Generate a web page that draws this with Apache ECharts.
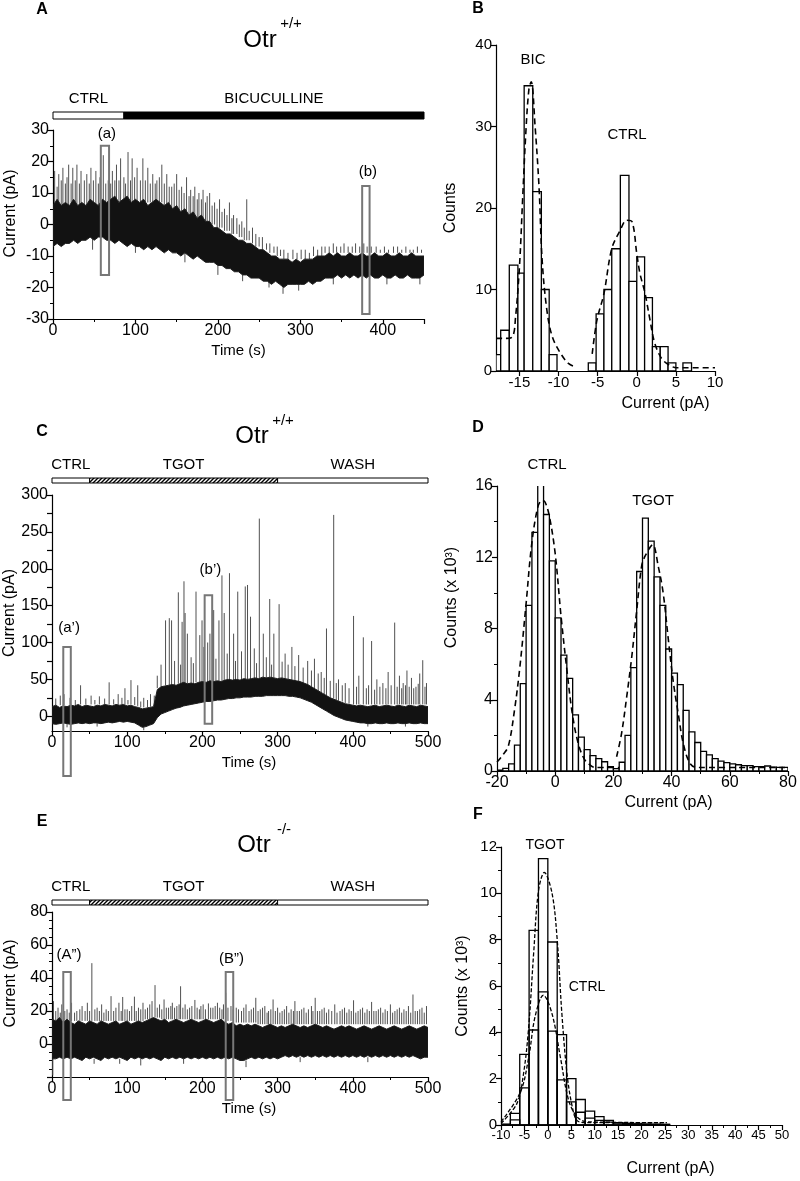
<!DOCTYPE html>
<html>
<head>
<meta charset="utf-8">
<script src="https://cdn.jsdelivr.net/npm/echarts@6/dist/echarts.min.js"></script>
<style>
html, body { margin: 0; padding: 0; background: #fff; }
#chart { width: 800px; height: 1181px; }
</style>
</head>
<body>
<div id="chart"></div>
<script>
// ---------- data ----------
// recording traces: dense band (low / high edge) sampled every 5 s
var traceTimeA = [0,5,10,15,20,25,30,35,40,45,50,55,60,65,70,75,80,85,90,95,100,105,110,115,120,125,130,135,140,145,150,155,160,165,170,175,180,185,190,195,200,205,210,215,220,225,230,235,240,245,250,255,260,265,270,275,280,285,290,295,300,305,310,315,320,325,330,335,340,345,350,355,360,365,370,375,380,385,390,395,400,405,410,415,420,425,430,435,440,445,450];
var traceLowA = [-7,-6,-7,-6,-6,-5,-6,-5,-5,-4, -5,-4,-4,-5,-5,-6,-5,-6,-7,-6, -7,-7,-8,-7,-8,-7,-8,-9,-8,-9, -9,-10,-9,-10,-11,-10,-11,-12,-12,-12, -13,-13,-14,-14,-15,-15,-16,-16,-17,-17, -17,-18,-18,-19,-18,-19,-20,-19,-19,-19, -19,-19,-18,-19,-18,-18,-17,-17,-17,-16, -17,-16,-17,-16,-17,-16,-17,-16,-17,-17, -16,-17,-17,-16,-17,-17,-16,-17,-17,-17,-16];
var traceHighA = [6,8,6,7,6,8,6,7,6,8, 7,6,8,7,8,9,7,8,9,7, 8,7,8,6,7,8,7,6,7,5, 6,4,5,3,4,2,3,1,1,-1, -1,-2,-3,-3,-4,-5,-5,-6,-6,-7, -8,-8,-9,-10,-10,-11,-11,-11,-12,-11, -12,-11,-11,-11,-10,-10,-10,-9,-10,-9, -10,-10,-9,-10,-10,-9,-10,-10,-9,-10, -10,-9,-10,-10,-9,-10,-10,-9,-10,-10,-10];

var traceTimeCE = [0,5,10,15,20,25,30,35,40,45,50,55,60,65,70,75,80,85,90,95,100,105,110,115,120,125,130,135,140,145,150,155,160,165,170,175,180,185,190,195,200,205,210,215,220,225,230,235,240,245,250,255,260,265,270,275,280,285,290,295,300,305,310,315,320,325,330,335,340,345,350,355,360,365,370,375,380,385,390,395,400,405,410,415,420,425,430,435,440,445,450,455,460,465,470,475,480,485,490,495,500];
var traceLowC = [-10,-11,-10,-9,-10,-11,-10,-9,-10,-9, -10,-9,-9,-10,-9,-8,-9,-8,-7,-8, -7,-8,-9,-12,-15,-14,-12,-10,-2,3, 5,7,9,11,12,14,15,16,17,18, 19,20,20,21,22,22,23,24,24,25, 25,26,26,26,27,27,27,28,28,28, 28,28,28,27,27,26,25,23,21,19, 16,13,10,7,4,1,-1,-3,-5,-6, -7,-8,-9,-9,-10,-10,-9,-10,-10,-9, -10,-10,-9,-10,-10,-9,-10,-10,-9,-10,-10];
var traceHighC = [13,15,12,14,13,15,14,16,13,15, 14,13,15,14,16,15,14,16,15,16, 14,15,13,12,10,11,12,13,36,40, 41,42,43,42,44,46,44,45,44,46, 47,46,48,47,48,47,49,50,49,50, 49,51,50,51,52,51,53,52,53,52, 51,52,51,50,49,48,47,45,43,40, 37,34,31,28,25,23,21,19,17,16, 15,14,15,14,13,14,15,13,14,15, 14,13,15,14,13,15,14,13,15,14,13];
var traceLowE = [-9,-9,-8,-9,-8,-9,-8,-9,-10,-8, -9,-8,-9,-10,-8,-9,-8,-9,-8,-9, -10,-8,-9,-8,-9,-8,-9,-8,-9,-10, -8,-9,-8,-9,-8,-9,-8,-9,-8,-9, -8,-9,-8,-9,-8,-9,-8,-9,-8,-9, -10,-10,-9,-8,-9,-8,-9,-8,-9,-8, -9,-8,-7,-8,-7,-8,-7,-8,-7,-8, -7,-8,-7,-8,-7,-8,-7,-8,-7,-8, -7,-8,-7,-8,-7,-8,-7,-8,-7,-8, -7,-8,-7,-8,-7,-8,-7,-8,-9,-8,-8];
var traceHighE = [15,14,16,13,15,13,12,14,13,12, 14,13,12,14,13,12,13,14,12,13, 14,12,13,14,13,14,15,16,15,14, 15,13,14,15,14,13,14,15,14,13, 14,15,14,13,14,15,13,12,13,11, 12,11,12,11,12,11,10,11,12,11, 10,11,10,11,12,11,10,11,10,11, 12,11,10,11,10,9,10,11,10,11, 10,9,10,11,10,9,10,11,10,9, 10,11,10,9,10,11,10,9,10,11,10];

// single events sticking out of the band: [time, from, to]
var spikesA = [[2,6,17],[5,6,12],[7,6,16],[10,6,14],[12,6,18],[15,6,13],[17,6,15],[19,6,19],[22,6,13],[24,6,18],[27,6,14],[29,6,19],[32,6,13],[34,6,17],[38,6,14],[41,6,16],[44,6,13],[46,6,18],[49,6,14],[52,6,17],[55,6,13],[57,6,15],[61,6,22],[64,6,13],[67,6,14],[70,6,13],[72,6,17],[75,6,14],[77,7,19],[80,7,14],[82,7,21],[86,7,15],[88,7,13],[91,7,23],[94,7,14],[96,7,21],[99,7,15],[102,7,18],[106,7,14],[109,7,21],[112,7,14],[115,7,18],[118,7,13],[121,7,16],[124,7,13],[126,7,14],[129,7,15],[132,7,19],[135,6,13],[138,6,16],[141,6,12],[144,5,12],[147,5,13],[150,5,16],[153,4,11],[156,4,12],[159,4,10],[162,4,15],[165,3,9],[167,3,11],[170,3,9],[172,3,12],[175,2,8],[177,2,10],[180,2,8],[182,2,11],[185,1,7],[187,1,9],[190,1,10],[193,0,6],[196,0,7],[199,-1,5],[202,-1,8],[205,-1,4],[208,-2,5],[211,-2,3],[214,-2,7],[217,-3,2],[219,-3,3],[223,-3,2],[226,-4,0],[229,-4,1],[232,-5,-1],[235,-5,8],[238,-5,-2],[242,-6,-1],[246,-7,-3],[250,-7,-4],[254,-8,-4],[259,-8,-6],[263,-9,-6],[268,-9,-7],[272,-10,-7],[276,-10,-8],[280,-11,-8],[285,-11,-9],[291,-11,-8],[296,-11,-9],[301,-11,-8],[306,-11,-8],[311,-11,-9],[316,-10,-7],[321,-10,-8],[326,-10,-7],[330,-9,-7],[335,-9,-7],[340,-9,-6],[344,-9,-7],[349,-9,-7],[353,-9,-6],[358,-9,-7],[363,-9,-7],[367,-9,-6],[372,-9,-7],[377,-9,-6],[381,-9,-7],[386,-9,-7],[392,-9,-7],[397,-9,-8],[402,-9,-7],[407,-9,-8],[413,-9,-7],[418,-9,-7],[423,-9,-8],[428,-9,-7],[433,-9,-8],[437,-9,-8],[442,-9,-7],[447,-9,-8],
  [48,-4,-8],[100,-7,-9],[160,-9,-12],[200,-13,-16],[230,-16,-18],[262,-18,-20],[279,-19,-22],[298,-19,-21],[340,-17,-19],[405,-17,-19],[445,-17,-19]];
var spikesC = [[5,15,24],[11,15,28],[16,15,30],[24,15,25],[31,15,22],[38,16,42],[45,16,24],[52,16,28],[57,16,22],[63,16,27],[70,16,24],[76,16,46],[82,16,23],[88,16,30],[93,16,25],[97,16,38],[101,16,22],[105,16,49],[110,15,26],[114,14,42],[118,12,20],[122,12,25],[127,12,22],[131,13,30],[136,14,28],[140,38,55],[145,40,70],[151,42,130],[156,42,133],[159,42,130],[163,42,75],[168,44,168],[171,44,70],[173,44,128],[175.5,44,183],[177,44,140],[180,44,112],[185,44,80],[188,44,72],[191.5,46,169],[196.5,46,110],[199.5,46,130],[202,46,94],[207,46,100],[210,46,112],[215,46,144],[218,46,78],[222,46,130],[226,46,191],[229,46,140],[233,48,85],[236,48,194],[241.5,48,112],[244,48,75],[247,48,169],[252,48,88],[257,48,176],[260,48,178],[264,48,135],[269,48,92],[272,48,72],[275.7,48,268],[281,48,112],[285,48,80],[289.5,48,159],[292,48,70],[295,48,112],[302,48,152],[306,48,74],[310,48,85],[314,48,70],[319,48,94],[323,46,68],[328,46,83],[334,44,66],[340,42,75],[345,40,62],[349,38,78],[354,34,58],[358,32,60],[362,30,52],[365,28,119],[370,25,48],[374.6,24,273],[378,22,45],[381,21,50],[386,20,42],[390,18,45],[395,17,38],[401,16,136],[405,16,40],[408,16,55],[414,16,107],[418,16,38],[421,16,42],[425,16,102],[429,16,36],[432,16,50],[436,16,40],[440,16,45],[444,16,38],[447,16,60],[451,16,42],[455.7,16,127],[459,16,40],[462,16,55],[465,16,38],[467,16,45],[470,16,42],[472,16,62],[475,16,40],[478,16,52],[481,16,38],[484,16,40],[487,16,44],[489,16,58],[493,16,76],[496,16,40],[498,16,45],
  [122,-14,-19],[60,-9,-14],[20,-10,-15],[420,-9,-14],[470,-9,-14]];
var spikesE = [[1,-9,-19],[2,14,26],[5,14,20],[8,14,22],[11,14,19],[13,14,24],[17,14,20],[20,14,21],[23,14,19],[26,14,25],[30,14,19],[33,14,20],[37,14,21],[40,14,23],[44,14,20],[47,14,25],[50,14,20],[53,14,49],[57,14,21],[60,14,22],[63,14,20],[66,14,24],[69,14,19],[72,14,21],[75,14,20],[78.5,14,29],[82,14,20],[85,14,22],[89,14,25],[92,14,20],[94,14,28.5],[97,14,21],[100,14,21],[103,14,20],[106,14,23],[109.6,14,28.7],[112,14,20],[115,14,22],[118,14,21],[121,14,25],[124,15,21],[127,15,22],[130,15,24],[133,15,26],[137,16,35.7],[140,16,22],[143,16,24],[146,15,21],[149,15,27],[152,15,22],[155,15,22],[158,15,23],[160,15,25],[163,15,22],[166,15,23],[169,15,24],[171,15,35],[174,15,22],[177,15,24],[180,15,21],[183,15,22],[186,15,23],[190,15,26.7],[193,15,22],[196,15,21],[198,15,23],[201,15,24],[204,15,21],[208,15,24.6],[211,15,22],[214,15,22],[217,15,23],[220,15,25],[223,15,22],[226,15,21],[228,15,24],[231,14,31],[234,14,22],[238,14,23],[241,14,21],[245,13,22],[248,13,21],[252,13,20],[255,13,22],[258,13,24],[262,13,20],[265,13,21],[268,13,22],[271,13,28],[274,12,20],[277,12,21],[280,12,22],[283,12,23],[286,12,19],[288,12,20],[291,12,21],[294,12,27],[297,12,20],[300,12,22],[303,12,19],[306,12,20],[309,12,21],[312,12,23],[315,12,19],[318,12,21],[321,12,20],[323,12,26],[326,12,20],[329,12,20],[332,12,21],[335,12,22],[338,12,19],[341,12,21],[345,12,23],[347,12,20],[350,12,28],[353,12,20],[356,12,20],[359,12,21],[362,12,22],[365,12,19],[368,12,21],[372,12,20],[376,12,24],[379,12,19],[383,12,20],[386,12,21],[389,12,22],[392,12,19],[395,12,21],[398,12,20],[401,12,26.5],[404,12,19],[407,12,20],[410,12,21],[413,12,22],[416,12,19],[419,12,21],[422,12,20],[425,12,25.5],[428,12,20],[431,12,20],[434,12,21],[437,12,22],[440,12,19],[443,12,21],[446,12,20],[450,12,24],[453,12,19],[456,12,20],[459,12,21],[462,12,22],[465,12,19],[468,12,21],[471,12,20],[474,12,23],[477,12,19],[480,12,30],[483,12,20],[486,12,20],[489,12,21],[492,12,22],[495,12,19],[498,12,23],
  [56,-9,-12],[90,-9,-12],[118,-9,-13],[175,-9,-12],[258,-10,-14],[330,-8,-11],[420,-8,-11]];

// drug application bars: start, end, label
var condStartA = [0, 86];
var condEndA = [86, 450];
var condLabelA = ['CTRL', 'BICUCULLINE'];
var condStartCE = [0, 50, 300];
var condEndCE = [50, 300, 500];
var condLabelCE = ['CTRL', 'TGOT', 'WASH'];

// marked stretches: [t0, t1, low, high]
var boxesA = [[58, 68, -16, 25], [375, 384, -28.4, 12.2]];
var boxLabelA = ['(a)', '(b)'];
var boxesC = [[15, 25, -81, 94], [203, 213, -10, 164]];
var boxLabelC = ['(a\u2019)', '(b\u2019)'];
var boxesE = [[15, 25, -34, 43.6], [231, 241, -34, 43.6]];
var boxLabelE = ['(A\u201D)', '(B\u201D)'];

// B: histograms [bin left, bin right, counts] and fitted curves
var histBic = [[-18,-17.4,2],[-17.4,-16.3,5],[-16.3,-15.2,13],[-15.2,-14.4,12],[-14.4,-13.3,35],[-13.3,-12.2,22],[-12.2,-11.2,10],[-11.2,-10.2,2]];
var histCtrlB = [[-6.2,-5.2,1],[-5.2,-4.2,7],[-4.2,-3.2,10],[-3.2,-2.1,15],[-2.1,-1,24],[-1,0,11],[0,1,14],[1,2,9],[2,3,3],[3,4,3],[4,5,1],[5.9,7,1]];
var fitBic = [[-18,4],[-16.8,4],[-15.9,4.2],[-15.5,6.6],[-15,12.8],[-14.6,21],[-14.2,29],[-13.8,34.5],[-13.5,35.5],[-13,30],[-12.5,22.6],[-12.1,13.6],[-11.5,7.5],[-10.8,4.2],[-9.7,2.1],[-8.7,0.9],[-7.8,0.5]];
var fitCtrlB = [[-5.7,2.1],[-5.1,6.2],[-4.2,9.5],[-3.2,15],[-2.1,17.3],[-1.3,18.5],[-0.6,18.3],[0,14.4],[0.4,12],[1.06,9.5],[1.7,6.2],[2.3,3.4],[3.2,1.5],[4.2,0.7],[5.1,0.4],[10,0.4]];

// D: 2 pA bins, counts x10^3
var binLeftD = [-20,-18,-16,-14,-12,-10,-8,-6,-4,-2,0,2,4,6,8,10,12,14,16,18,20,22,24,26,28,30,32,34,36,38,40,42,44,46,48,50,52,54,56,58,60,62,64,66,68,70,72,74,76,78];
var countsD = [0.05,0.15,0.4,1.45,4.9,9.3,13.4,16.07,14.4,11.8,8.6,6.5,5.2,3.15,1.9,1.2,0.86,0.7,0.52,0.24,0.13,0.49,2.0,5.8,11.2,14.2,12.9,10.9,9.3,6.85,5.5,4.85,3.4,2.2,1.6,1.1,0.9,0.7,0.55,0.47,0.4,0.35,0.3,0.3,0.25,0.25,0.28,0.22,0.2,0.2];
var fitCtrlD = [[-20,0.5],[-18,0.9],[-16.1,1.4],[-14,3.4],[-12.1,5.9],[-10,9.4],[-8.1,12.7],[-6,14.8],[-4.5,15.2],[-3.5,15.1],[-2,14.3],[0,12.2],[2,8.7],[4,5.7],[5.9,3.2],[7.9,1.55],[9.9,0.7],[12,0.33],[13.7,0.2],[22,0.2]];
var fitTgotD = [[21.1,0.8],[22.8,2.1],[24.6,4.2],[26.3,6.4],[28,9],[29.7,11.5],[31,12.1],[33.5,12.7],[35.4,11.5],[37.1,10],[38.8,7.5],[40.5,5.1],[42.3,3.2],[44,1.55],[46.3,0.43],[48.6,0.2],[80,0.2]];

// F: 2 pA bins, counts x10^3
var binLeftF = [-10,-8,-6,-4,-2,0,2,4,6,8,10,12,14,16,18,20,22,24];
var countsTgotF = [0.03,0.5,3.05,8.4,11.5,7.9,3.9,2.0,1.1,0.6,0.36,0.2,0.1,0.07,0.05,0.04,0.03,0.03];
var countsCtrlF = [0.03,0.22,1.6,4.1,5.75,4.05,1.95,1.0,0.55,0.3,0.2,0.12,0.08,0.05,0.04,0.03,0.03,0.02];
var fitTgotF = [[-10,0.07],[-6.6,0.93],[-5.2,2.2],[-4.1,4.2],[-3,7.5],[-2,10.1],[-0.75,10.9],[0.9,10],[2,8],[3,4.8],[4.1,2.2],[5.2,0.8],[6.2,0.2],[8,0.1],[25.4,0.1]];
var fitCtrlF = [[-10,0.14],[-5.9,1.4],[-4.1,2.9],[-2.7,4.7],[-0.95,5.6],[0.9,4.8],[2.7,2.9],[4.4,1.1],[6.2,0.36],[8.4,0.14],[25.4,0.1]];

// ---------- drawing ----------
var FONT = '"Liberation Sans", Arial, Helvetica, sans-serif';

function hatchPattern () {
  var c = document.createElement('canvas')
  c.width = 4
  c.height = 4
  var g = c.getContext('2d')
  g.fillStyle = '#fff'
  g.fillRect(0, 0, 4, 4)
  g.strokeStyle = '#000'
  g.lineWidth = 1.4
  g.beginPath()
  g.moveTo(-1, 5); g.lineTo(5, -1)
  g.moveTo(-1, 1); g.lineTo(1, -1)
  g.moveTo(3, 5); g.lineTo(5, 3)
  g.stroke()
  return { image: c, repeat: 'repeat' }
}
var HATCH = hatchPattern()
var condFillA = ['#fff', '#000']
var condFillCE = ['#fff', HATCH, '#fff']

function ax (gridIndex, min, max, o) {
  o = o || {}
  return {
    type: 'value', gridIndex: gridIndex, min: min, max: max, interval: o.interval,
    name: o.name || '', nameLocation: 'middle', nameGap: o.nameGap || 25,
    nameTextStyle: { color: '#000', fontSize: o.nameSize || 16, fontFamily: FONT, padding: o.namePad || 0 },
    axisLine: { show: true, onZero: false, lineStyle: { color: '#000', width: 1.2 } },
    axisTick: { show: true, length: 5, customValues: o.tickValues, lineStyle: { color: '#000', width: 1.2 } },
    minorTick: { show: !!o.minor, splitNumber: o.minor || 5, length: 3, lineStyle: { color: '#000', width: 1 } },
    axisLabel: { color: '#000', fontSize: o.labelSize || 16, fontFamily: FONT, margin: 4, customValues: o.labelValues, showMaxLabel: o.showMax, showMinLabel: o.showMin },
    splitLine: { show: false }
  }
}
function hiddenAx (gridIndex, min, max) {
  return { type: 'value', gridIndex: gridIndex, min: min, max: max, show: false, splitLine: { show: false } }
}

function bandRender (params, api) {
  if (params.dataIndexInside !== 0) return null
  var n = params.dataInsideLength
  var upper = []
  var lower = []
  for (var i = 0; i < n; i++) {
    upper.push(api.coord([api.value(0, i), api.value(2, i)]))
    lower.push(api.coord([api.value(0, i), api.value(1, i)]))
  }
  return {
    type: 'polygon',
    shape: { points: upper.concat(lower.reverse()) },
    style: { fill: '#121212', stroke: '#1e1e1e', lineWidth: 1 }
  }
}
function spikeRender (params, api) {
  var a = api.coord([api.value(0), api.value(1)])
  var b = api.coord([api.value(0), api.value(2)])
  return { type: 'line', shape: { x1: a[0], y1: a[1], x2: b[0], y2: b[1] }, style: { stroke: '#505050', lineWidth: 1 } }
}
function histRender (fill) {
  return function (params, api) {
    var p0 = api.coord([api.value(0), api.value(2)])
    var p1 = api.coord([api.value(1), 0])
    return {
      type: 'rect',
      shape: { x: p0[0], y: p0[1], width: p1[0] - p0[0], height: p1[1] - p0[1] },
      style: { fill: fill, stroke: '#000', lineWidth: 1.3 }
    }
  }
}
function boxRender (labels, gaps) {
  return function (params, api) {
    var p0 = api.coord([api.value(0), api.value(3)])
    var p1 = api.coord([api.value(1), api.value(2)])
    var i = params.dataIndex
    return {
      type: 'group',
      children: [
        { type: 'rect', shape: { x: p0[0], y: p0[1], width: p1[0] - p0[0], height: p1[1] - p0[1] }, style: { fill: 'none', stroke: '#777', lineWidth: 2 } },
        { type: 'text', x: (p0[0] + p1[0]) / 2 + 2, y: p0[1] - gaps[i], style: { text: labels[i], font: '15px ' + FONT, fill: '#000', align: 'center', verticalAlign: 'middle' } }
      ]
    }
  }
}
function condRender (labels, fills) {
  return function (params, api) {
    var p0 = api.coord([api.value(0), 1])
    var p1 = api.coord([api.value(1), 0])
    var i = params.dataIndex
    return {
      type: 'group',
      children: [
        { type: 'rect', shape: { x: p0[0], y: p0[1], width: p1[0] - p0[0], height: p1[1] - p0[1] }, style: { fill: fills[i], stroke: '#000', lineWidth: 1 } },
        { type: 'text', x: (p0[0] + p1[0]) / 2, y: p0[1] - 13, style: { text: labels[i], font: '15px ' + FONT, fill: '#000', align: 'center', verticalAlign: 'middle' } }
      ]
    }
  }
}

function zip3 (t, lo, hi) {
  return t.map(function (v, i) { return [v, lo[i], hi[i]] })
}
function bins (left, counts) {
  return left.map(function (x, i) { return [x, x + 2, counts[i]] })
}
function cond (start, end) {
  return start.map(function (s, i) { return [s, end[i]] })
}

function trace (idx, band, spikes, boxes, labels, gaps) {
  return [
    { type: 'custom', xAxisIndex: idx, yAxisIndex: idx, renderItem: spikeRender, data: spikes, encode: { x: 0, y: [1, 2] }, clip: true, silent: true },
    { type: 'custom', xAxisIndex: idx, yAxisIndex: idx, renderItem: bandRender, data: band, encode: { x: 0, y: [1, 2] }, clip: true, silent: true },
    { type: 'custom', xAxisIndex: idx, yAxisIndex: idx, renderItem: boxRender(labels, gaps), data: boxes, encode: { x: [0, 1], y: [2, 3] }, clip: false, silent: true, z: 5 }
  ]
}
function hist (idx, data, fill) {
  return { type: 'custom', xAxisIndex: idx, yAxisIndex: idx, renderItem: histRender(fill), data: data, encode: { x: [0, 1], y: 2 }, clip: true, silent: true }
}
function fit (idx, data, dash, width) {
  return {
    type: 'line', xAxisIndex: idx, yAxisIndex: idx, data: data, symbol: 'none', smooth: 0.35, silent: true, z: 4,
    lineStyle: { color: '#000', width: width, type: dash }
  }
}
function condSeries (idx, data, labels, fills) {
  return { type: 'custom', xAxisIndex: idx, yAxisIndex: idx, renderItem: condRender(labels, fills), data: data, encode: { x: [0, 1] }, clip: false, silent: true }
}

function txt (x, y, s, font) {
  return { type: 'text', x: x, y: y, silent: true, style: { text: s, font: font, fill: '#000', align: 'center', verticalAlign: 'middle' } }
}

var c25 = [0, 25, 50, 75, 100, 125, 150, 175, 200, 225, 250, 275, 300]
var c50 = [0, 50, 100, 150, 200, 250, 300]
var bTicks = [-15, -10, -5, 0, 5, 10]

var option = {
  animation: false,
  backgroundColor: '#fff',
  grid: [
    { left: 53, top: 130, width: 371, height: 189 },
    { left: 496, top: 45, width: 219, height: 326 },
    { left: 52, top: 495, width: 376, height: 236 },
    { left: 497, top: 486, width: 291, height: 285 },
    { left: 52, top: 912, width: 376, height: 165 },
    { left: 501, top: 847, width: 281, height: 278 },
    { left: 53, top: 112, width: 371, height: 7 },
    { left: 52, top: 478, width: 376, height: 5 },
    { left: 52, top: 900, width: 376, height: 5 }
  ],
  xAxis: [
    ax(0, 0, 450, { interval: 100, minor: 2, name: 'Time (s)', nameGap: 24, nameSize: 15, showMax: false }),
    ax(1, -18, 10, { labelValues: bTicks, tickValues: bTicks, labelSize: 15, name: 'Current (pA)', nameGap: 25, namePad: [0, 0, 0, 120] }),
    ax(2, 0, 500, { interval: 100, minor: 2, name: 'Time (s)', nameGap: 24, nameSize: 15, namePad: [0, 0, 0, 18] }),
    ax(3, -20, 80, { interval: 20, minor: 2, name: 'Current (pA)', nameGap: 24, namePad: [0, 0, 0, 52] }),
    ax(4, 0, 500, { interval: 100, minor: 2, name: 'Time (s)', nameGap: 24, nameSize: 15, namePad: [0, 0, 0, 18] }),
    ax(5, -10, 50, { interval: 5, minor: 2, labelSize: 13, name: 'Current (pA)', nameGap: 36, namePad: [0, 0, 0, 58] }),
    hiddenAx(6, 0, 450),
    hiddenAx(7, 0, 500),
    hiddenAx(8, 0, 500)
  ],
  yAxis: [
    ax(0, -30, 30, { interval: 10, minor: 2, name: 'Current (pA)', nameGap: 34, namePad: [0, 0, 0, 22] }),
    ax(1, 0, 40, { interval: 10, labelSize: 15, name: 'Counts', nameGap: 37 }),
    ax(2, -20, 300, { labelValues: c50, tickValues: c25, name: 'Current (pA)', nameGap: 33 }),
    ax(3, 0, 16, { interval: 4, minor: 2, name: 'Counts (x 10\u00B3)', nameGap: 37, namePad: [0, 0, 0, 62] }),
    ax(4, -20, 80, { interval: 20, minor: 4, name: 'Current (pA)', nameGap: 33, namePad: [0, 0, 0, 22], showMin: false }),
    ax(5, 0, 12, { interval: 2, minor: 2, labelSize: 15, name: 'Counts (x 10\u00B3)', nameGap: 30 }),
    hiddenAx(6, 0, 1),
    hiddenAx(7, 0, 1),
    hiddenAx(8, 0, 1)
  ],
  series: [].concat(
    trace(0, zip3(traceTimeA, traceLowA, traceHighA), spikesA, boxesA, boxLabelA, [12, 14]),
    trace(2, zip3(traceTimeCE, traceLowC, traceHighC), spikesC, boxesC, boxLabelC, [19, 25]),
    trace(4, zip3(traceTimeCE, traceLowE, traceHighE), spikesE, boxesE, boxLabelE, [17, 13]),
    [
      hist(1, histBic, '#fff'),
      hist(1, histCtrlB, '#fff'),
      fit(1, fitBic, [6, 4], 1.6),
      fit(1, fitCtrlB, [6, 4], 1.6),
      hist(3, bins(binLeftD, countsD), '#fff'),
      fit(3, fitCtrlD, [6, 4], 1.6),
      fit(3, fitTgotD, [6, 4], 1.6),
      hist(5, bins(binLeftF, countsTgotF), '#fff'),
      hist(5, bins(binLeftF, countsCtrlF), 'none'),
      fit(5, fitTgotF, [4, 2], 1.3),
      fit(5, fitCtrlF, [4, 2], 1.3),
      condSeries(6, cond(condStartA, condEndA), condLabelA, condFillA),
      condSeries(7, cond(condStartCE, condEndCE), condLabelCE, condFillCE),
      condSeries(8, cond(condStartCE, condEndCE), condLabelCE, condFillCE)
    ]
  ),
  graphic: [
    txt(42, 10, 'A', 'bold 16px ' + FONT),
    txt(478, 9, 'B', 'bold 16px ' + FONT),
    txt(42, 432, 'C', 'bold 16px ' + FONT),
    txt(478, 428, 'D', 'bold 16px ' + FONT),
    txt(42, 822, 'E', 'bold 16px ' + FONT),
    txt(478, 815, 'F', 'bold 16px ' + FONT),
    txt(260, 40, 'Otr', '24px ' + FONT),
    txt(291, 24, '+/+', '15px ' + FONT),
    txt(252, 436, 'Otr', '24px ' + FONT),
    txt(283, 421, '+/+', '15px ' + FONT),
    txt(254, 845, 'Otr', '24px ' + FONT),
    txt(284, 830, '-/-', '15px ' + FONT),
    txt(533, 60, 'BIC', '15px ' + FONT),
    txt(627, 135, 'CTRL', '15px ' + FONT),
    txt(547, 465, 'CTRL', '15px ' + FONT),
    txt(653, 501, 'TGOT', '15px ' + FONT),
    txt(545, 845, 'TGOT', '14px ' + FONT),
    txt(587, 987, 'CTRL', '14px ' + FONT)
  ]
}

var myChart = echarts.init(document.getElementById('chart'))
myChart.setOption(option)
</script>
</body>
</html>
